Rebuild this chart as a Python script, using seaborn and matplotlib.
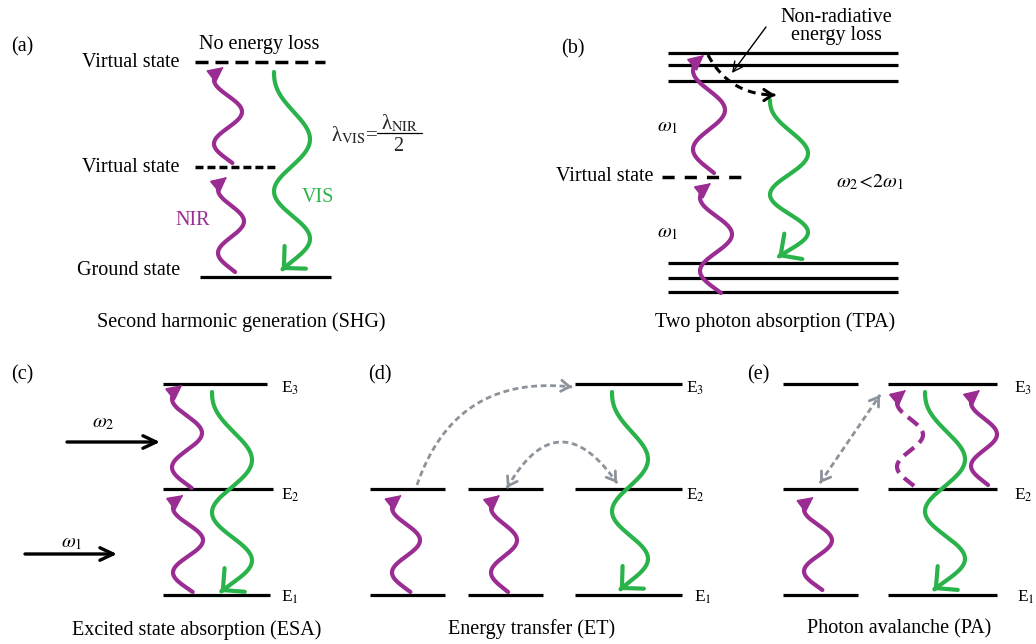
import numpy as np
import pandas as pd
import matplotlib
matplotlib.use("Agg")
import matplotlib.pyplot as plt
import seaborn as sns

# ---------------- data : schematic coordinates in image pixels (y grows downwards) ----------------
PURPLE = "#9a2c92"
GREEN = "#2bb34b"
GRAY = "#8d939b"

# solid energy levels
level_x0 = [200] + [668] * 6 + [163, 163, 163] + [575, 370, 468, 575, 370, 468, 575] + [783, 888] * 3
level_x1 = [331] + [898] * 6 + [267, 273, 270] + [682, 445, 543, 682, 445, 543, 682] + [858, 997] * 3
level_y = ([277] + [53, 65, 81, 263, 278, 292] + [384, 489, 595]
           + [384, 489, 489, 489, 595, 595, 595] + [384, 384, 489, 489, 595, 595])

# dashed virtual states
virt_x0 = [195, 195, 662]
virt_x1 = [325, 278, 748]
virt_y = [62, 167, 177]
virt_dash = [(3.75, 2.0), (2.3, 1.15), (3.5, 2.9)]

# purple (NIR absorption) wavy arrows: centre x, start y, tip y, amplitude, dashed
purple_cx = [231, 228, 716, 709, 188, 187, 406, 504, 818, 984, 910]
purple_y0 = [272, 163, 293, 173, 592, 488, 592, 592, 590, 485, 486]
purple_y1 = [177, 67, 183, 55, 495, 385, 495, 495, 497, 390, 390]
purple_amp = [13, 14, 16, 16, 15, 15, 14, 13, 14, 13, 13]
purple_dashed = [False] * 10 + [True]

# green (visible emission) wavy arrows
green_cx = [292, 789, 232, 630, 945]
green_y0 = [72, 100, 392, 392, 392]
green_y1 = [270, 257, 592, 590, 590]
green_amp = [18, 19, 20, 18, 20]

# dashed transfer arrows (quadratic curves)
curve_x0 = [417, 507, 820, 708]
curve_y0 = [485, 488, 483, 55]
curve_x1 = [572, 617, 880, 775]
curve_y1 = [387, 483, 395, 95]
curve_bend = [0.40, 0.79, 0.0, -0.30]
curve_color = [GRAY, GRAY, GRAY, "black"]
curve_both = [False, True, True, False]

# straight solid arrows (excitation beams and annotation pointer)
arrow_x0 = [67, 25, 766]
arrow_y0 = [442, 554, 27]
arrow_x1 = [160, 117, 732]
arrow_y1 = [442, 554, 73]
arrow_lw = [2.4, 2.4, 1.0]

# text labels
label_text = ["(a)", "(b)", "(c)", "(d)", "(e)",
              "Virtual state", "Virtual state", "Ground state", "No energy loss",
              "Non-radiative", "energy loss", "Virtual state",
              "Second harmonic generation (SHG)", "Two photon absorption (TPA)",
              "Excited state absorption (ESA)", "Energy transfer (ET)", "Photon avalanche (PA)",
              r"$\omega_1$", r"$\omega_1$", r"$\omega_2\!<\!2\omega_1$", r"$\omega_2$", r"$\omega_1$"]
label_x = [22, 573, 22, 380, 758, 180, 180, 180, 259, 836, 836, 654,
           241, 775, 197, 532, 899, 668, 668, 870, 103, 72]
label_y = [47, 49, 375, 375, 375, 62, 167, 270, 44, 17, 35, 176,
           322, 322, 630, 629, 629, 127, 233, 182, 423, 543]
label_ha = ["center"] * 5 + ["right"] * 3 + ["center"] * 3 + ["right"] + ["center"] * 10

level_names = ["E$_3$", "E$_2$", "E$_1$"] * 3
level_name_x = [281, 281, 281, 686, 686, 694, 1014, 1014, 1017]
level_name_y = [393, 500, 602] * 3

# ---------------- drawing ----------------
sns.set_theme(style="white")
plt.rcParams["font.family"] = ["Liberation Serif", "DejaVu Serif"]
plt.rcParams["mathtext.fontset"] = "stix"

fig = plt.figure(figsize=(10.36, 6.44), dpi=100)
ax = fig.add_axes([0, 0, 1, 1])

# solid levels
lev = pd.DataFrame({
    "x": np.ravel(np.column_stack([level_x0, level_x1])),
    "y": np.repeat(level_y, 2),
    "id": np.repeat(np.arange(len(level_y)), 2),
})
sns.lineplot(data=lev, x="x", y="y", units="id", estimator=None, sort=False,
             color="black", lw=2.3, solid_capstyle="butt", ax=ax)

# dashed virtual levels
for x0, x1, y, d in zip(virt_x0, virt_x1, virt_y, virt_dash):
    sns.lineplot(x=[x0, x1], y=[y, y], estimator=None, sort=False, color="black",
                 lw=2.5, linestyle=(0, d), dash_capstyle="butt", ax=ax)


def head(x, y, ux, uy, style, color, lw):
    ax.annotate("", xy=(x, y), xytext=(x - ux, y - uy), xycoords="data",
                arrowprops=dict(arrowstyle=style, color=color, lw=lw, mutation_scale=10,
                                shrinkA=0, shrinkB=0, capstyle="round", joinstyle="miter"))


def wave(cx, y0, y1, amp, phase, k, p, color, dashed, style, hlw, trim):
    t = np.linspace(0, 1, 400)
    th = phase + k * t ** p
    xs = cx + amp * np.sin(th)
    ys = y0 + (y1 - y0) * t
    dx, dy = xs[-1] - xs[-2], ys[-1] - ys[-2]
    n = np.hypot(dx, dy)
    ux, uy = dx / n, dy / n
    cum = np.concatenate([[0], np.cumsum(np.hypot(np.diff(xs), np.diff(ys)))])
    keep = cum <= cum[-1] - trim
    ls = (0, (3.1, 1.7)) if dashed else "-"
    sns.lineplot(x=xs[keep], y=ys[keep], estimator=None, sort=False, color=color, lw=3,
                 linestyle=ls, solid_capstyle="round", dash_capstyle="butt", ax=ax)
    head(xs[-1], ys[-1], ux, uy, style, color, hlw)


for cx, y0, y1, a, d in zip(purple_cx, purple_y0, purple_y1, purple_amp, purple_dashed):
    wave(cx, y0, y1, a, -3.46, 2 * np.pi * 1.5, 1.0, PURPLE, d,
         "-|>,head_length=1.0,head_width=0.5", 1.0, 6)

for cx, y0, y1, a in zip(green_cx, green_y0, green_y1, green_amp):
    wave(cx, y0, y1, a, -np.pi / 2, 11.6, 1.21, GREEN, False,
         "->,head_length=1.12,head_width=1.12", 3.0, 1.5)

# dashed curved transfer arrows
for x0, y0, x1, y1, r, c, both in zip(curve_x0, curve_y0, curve_x1, curve_y1,
                                      curve_bend, curve_color, curve_both):
    mx, my = (x0 + x1) / 2, (y0 + y1) / 2
    cxp, cyp = mx + r * (y1 - y0), my - r * (x1 - x0)
    t = np.linspace(0, 1, 120)
    bx = (1 - t) ** 2 * x0 + 2 * (1 - t) * t * cxp + t ** 2 * x1
    by = (1 - t) ** 2 * y0 + 2 * (1 - t) * t * cyp + t ** 2 * y1
    lw = 2.2 if c == "black" else 2.0
    dash = (2.6, 1.9) if c == "black" else (2.1, 1.3)
    sns.lineplot(x=bx, y=by, estimator=None, sort=False, color=c, lw=lw,
                 linestyle=(0, dash), dash_capstyle="butt", ax=ax)
    ex, ey = x1 - cxp, y1 - cyp
    if r == 0:
        ex, ey = x1 - x0, y1 - y0
    n = np.hypot(ex, ey)
    head(x1, y1, ex / n, ey / n, "->,head_length=0.6,head_width=0.4", c, lw)
    if both:
        sx, sy = x0 - cxp, y0 - cyp
        if r == 0:
            sx, sy = x0 - x1, y0 - y1
        n = np.hypot(sx, sy)
        head(x0, y0, sx / n, sy / n, "->,head_length=0.6,head_width=0.4", c, lw)

# straight solid arrows
for x0, y0, x1, y1, lw in zip(arrow_x0, arrow_y0, arrow_x1, arrow_y1, arrow_lw):
    hl, hw = (0.95, 0.45) if lw > 2 else (0.7, 0.35)
    ax.annotate("", xy=(x1, y1), xytext=(x0, y0), xycoords="data",
                arrowprops=dict(arrowstyle=f"->,head_length={hl},head_width={hw}", color="black",
                                lw=lw, mutation_scale=10, shrinkA=0, shrinkB=0))

# text
for s, x, y, ha in zip(label_text, label_x, label_y, label_ha):
    ax.text(x, y, s, ha=ha, va="center", fontsize=14.5, color="black")
for s, x, y in zip(level_names, level_name_x, level_name_y):
    ax.text(x, y, s, ha="left", va="baseline", fontsize=12.5, color="black")
ax.text(193, 220, "NIR", ha="center", va="center", fontsize=14.5, color=PURPLE)
ax.text(318, 197, "VIS", ha="center", va="center", fontsize=14.5, color=GREEN)

# wavelength relation
ax.text(331, 135, "λ$_{\\mathrm{VIS}}$=", ha="left", va="center", fontsize=15)
ax.text(400, 123, "λ$_{\\mathrm{NIR}}$", ha="center", va="center", fontsize=15)
ax.plot([377, 422], [133, 133], color="black", lw=0.9)
ax.text(398, 146, "2", ha="center", va="center", fontsize=14.5)

ax.set_xlim(0, 1036)
ax.set_ylim(644, 0)
ax.axis("off")
fig.savefig("out.png", dpi=100, facecolor="white")
